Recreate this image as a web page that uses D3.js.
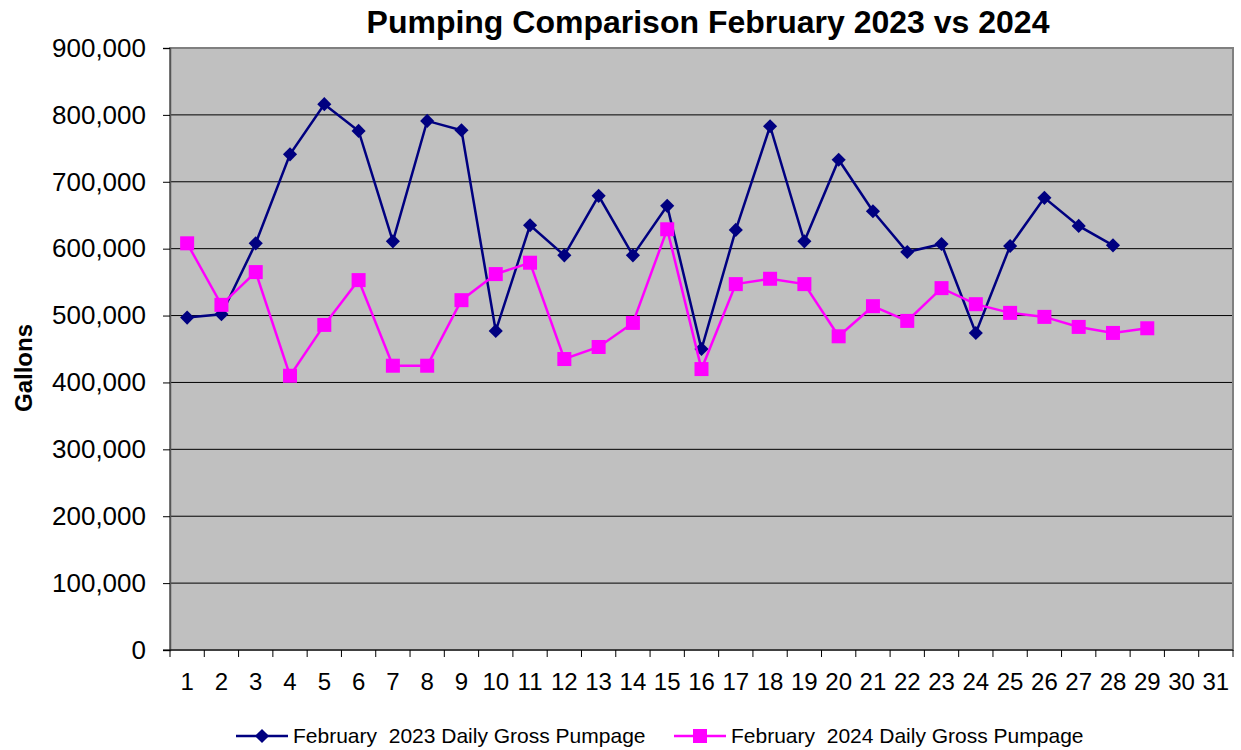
<!DOCTYPE html>
<html>
<head>
<meta charset="utf-8">
<script src="https://cdn.jsdelivr.net/npm/d3@7"></script>
<style>
  body { margin: 0; background: #fff; }
  svg text { font-family: "Liberation Sans", Arial, sans-serif; white-space: pre; }
</style>
</head>
<body>
<div id="chart"></div>
<script>
const days = d3.range(1, 32).map(String);
const yTicks = [0, 100000, 200000, 300000, 400000, 500000, 600000, 700000, 800000, 900000];
const series2023 = [497000, 502000, 608000, 741000, 816000, 776000, 611000, 791000, 777000, 477000,
  635000, 590000, 679000, 590000, 664000, 450000, 628000, 783000, 611000, 733000,
  656000, 595000, 607000, 474000, 604000, 676000, 634000, 605000];
const series2024 = [608000, 516000, 565000, 410000, 486000, 553000, 425000, 425000, 523000, 562000,
  579000, 435000, 453000, 489000, 629000, 420000, 547000, 555000, 547000, 469000,
  514000, 492000, 541000, 517000, 504000, 498000, 483000, 474000, 481000];
const seriesNames = ["February  2023 Daily Gross Pumpage", "February  2024 Daily Gross Pumpage"];
const titleText = "Pumping Comparison February 2023 vs 2024";

(function () {
  const width = 1241, height = 750;
  const margin = { top: 48, right: 8, bottom: 100, left: 170 };
  const plotW = width - margin.left - margin.right;
  const plotH = height - margin.top - margin.bottom;

  const svg = d3.select("#chart").append("svg").attr("width", width).attr("height", height);

  const x = d3.scaleBand().domain(days).range([0, plotW]);
  const y = d3.scaleLinear().domain([0, 900000]).range([plotH, 0]);

  const g = svg.append("g").attr("transform", `translate(${margin.left},${margin.top})`);

  // plot background
  g.append("rect")
    .attr("width", plotW).attr("height", plotH)
    .attr("fill", "#c0c0c0");

  // gridlines
  g.selectAll(".grid")
    .data(yTicks.filter(d => d > 0))
    .enter().append("line")
    .attr("x1", 0).attr("x2", plotW)
    .attr("y1", d => y(d)).attr("y2", d => y(d))
    .attr("stroke", "#000").attr("stroke-width", 1);

  // border
  g.append("rect")
    .attr("width", plotW).attr("height", plotH)
    .attr("fill", "none").attr("stroke", "#808080").attr("stroke-width", 2);

  // y axis
  const yAxis = g.append("g")
    .call(d3.axisLeft(y).tickValues(yTicks).tickSize(7).tickPadding(17).tickFormat(d3.format(",")));
  yAxis.select(".domain").attr("stroke", "#555").attr("stroke-width", 1.5);
  yAxis.selectAll("text").attr("font-size", 26).attr("fill", "#000");

  // x axis: ticks on category boundaries
  const xg = g.append("g").attr("transform", `translate(0,${plotH})`);
  xg.append("line").attr("x1", -7).attr("x2", plotW).attr("stroke", "#000").attr("stroke-width", 1);
  xg.selectAll(".xtick")
    .data(days.concat(["end"]))
    .enter().append("line")
    .attr("x1", (d, i) => i * x.step()).attr("x2", (d, i) => i * x.step())
    .attr("y1", 0).attr("y2", 7)
    .attr("stroke", "#000");
  xg.selectAll(".xlabel")
    .data(days)
    .enter().append("text")
    .attr("x", d => x(d) + x.bandwidth() / 2)
    .attr("y", 40)
    .attr("text-anchor", "middle")
    .attr("font-size", 24)
    .text(d => d);

  const line = d3.line()
    .x((d, i) => x(days[i]) + x.bandwidth() / 2)
    .y(d => y(d));

  // 2023 series
  g.append("path").datum(series2023)
    .attr("d", line).attr("fill", "none").attr("stroke", "#000080").attr("stroke-width", 2.5);
  g.selectAll(".m2023")
    .data(series2023)
    .enter().append("rect")
    .attr("x", -5).attr("y", -5).attr("width", 10).attr("height", 10)
    .attr("fill", "#000080")
    .attr("transform", (d, i) => `translate(${x(days[i]) + x.bandwidth() / 2},${y(d)}) rotate(45)`);

  // 2024 series
  g.append("path").datum(series2024)
    .attr("d", line).attr("fill", "none").attr("stroke", "#ff00ff").attr("stroke-width", 2.5);
  g.selectAll(".m2024")
    .data(series2024)
    .enter().append("rect")
    .attr("x", (d, i) => x(days[i]) + x.bandwidth() / 2 - 7)
    .attr("y", d => y(d) - 7)
    .attr("width", 14).attr("height", 14)
    .attr("fill", "#ff00ff");

  // y axis title
  svg.append("text")
    .attr("transform", "translate(32,368) rotate(-90)")
    .attr("text-anchor", "middle")
    .attr("font-size", 24).attr("font-weight", "bold")
    .text("Gallons");

  // chart title
  svg.append("text")
    .attr("x", 708).attr("y", 33)
    .attr("text-anchor", "middle")
    .attr("font-size", 32).attr("font-weight", "bold")
    .text(titleText);

  // legend
  const legend = svg.append("g").attr("transform", "translate(0,736)");
  const legendItems = [
    { name: seriesNames[0], x: 236, color: "#000080", shape: "diamond" },
    { name: seriesNames[1], x: 674, color: "#ff00ff", shape: "square" }
  ];
  legendItems.forEach(item => {
    const lg = legend.append("g").attr("transform", `translate(${item.x},0)`);
    lg.append("line").attr("x1", 0).attr("x2", 52).attr("y1", 0).attr("y2", 0)
      .attr("stroke", item.color).attr("stroke-width", 2.5);
    if (item.shape === "diamond") {
      lg.append("rect").attr("x", -5).attr("y", -5).attr("width", 10).attr("height", 10)
        .attr("fill", item.color).attr("transform", "translate(26,0) rotate(45)");
    } else {
      lg.append("rect").attr("x", 19).attr("y", -7).attr("width", 14).attr("height", 14)
        .attr("fill", item.color);
    }
    lg.append("text").attr("x", 57).attr("y", 7)
      .attr("font-size", 21).text(item.name);
  });
})();
</script>
</body>
</html>
